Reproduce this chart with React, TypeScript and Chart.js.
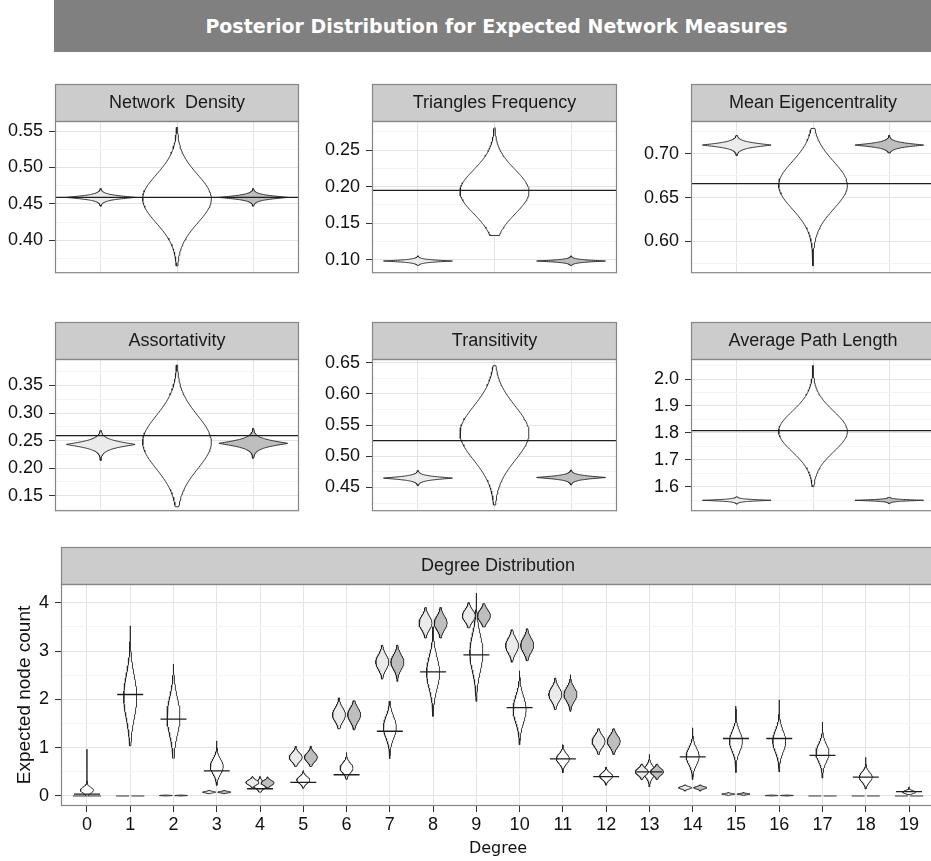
import React, { useEffect, useRef } from "react";
import { Chart, registerables } from "chart.js";

Chart.register(...registerables);

// ---------------- Six summary panels ----------------
const panelTitles = [
  "Network  Density",
  "Triangles Frequency",
  "Mean Eigencentrality",
  "Assortativity",
  "Transitivity",
  "Average Path Length",
];
const groupPositions = [1, 2, 3];
const observedValues = [0.459, 0.195, 0.666, 0.259, 0.525, 1.808];

// left (light) violins
const lightMode = [0.459, 0.098, 0.71, 0.243, 0.465, 1.549];
const lightMin = [0.447, 0.092, 0.698, 0.214, 0.453, 1.535];
const lightMax = [0.471, 0.105, 0.721, 0.268, 0.477, 1.562];
const lightSpread = [0.0034, 0.0019, 0.0034, 0.0077, 0.0034, 0.0039];

// middle (white) violins
const midMode = [0.457, 0.193, 0.664, 0.247, 0.537, 1.805];
const midMin = [0.365, 0.133, 0.572, 0.13, 0.422, 1.6];
const midMax = [0.555, 0.281, 0.729, 0.387, 0.645, 2.05];
const midSd = [0.033, 0.03, 0.027, 0.048, 0.043, 0.075];

// right (dark) violins
const darkMode = [0.459, 0.098, 0.71, 0.245, 0.466, 1.549];
const darkMin = [0.447, 0.092, 0.701, 0.218, 0.454, 1.537];
const darkMax = [0.471, 0.105, 0.721, 0.272, 0.478, 1.56];
const darkSpread = [0.0034, 0.0019, 0.003, 0.0077, 0.0034, 0.0035];

const yTickValues = [
  [0.4, 0.45, 0.5, 0.55],
  [0.1, 0.15, 0.2, 0.25],
  [0.6, 0.65, 0.7],
  [0.15, 0.2, 0.25, 0.3, 0.35],
  [0.45, 0.5, 0.55, 0.6, 0.65],
  [1.6, 1.7, 1.8, 1.9, 2.0],
];
const yTickLabels = [
  ["0.40", "0.45", "0.50", "0.55"],
  ["0.10", "0.15", "0.20", "0.25"],
  ["0.60", "0.65", "0.70"],
  ["0.15", "0.20", "0.25", "0.30", "0.35"],
  ["0.45", "0.50", "0.55", "0.60", "0.65"],
  ["1.6", "1.7", "1.8", "1.9", "2.0"],
];
const yAxisMin = [0.355, 0.0813, 0.5635, 0.1219, 0.412, 1.5085];
const yAxisMax = [0.5638, 0.29, 0.7375, 0.398, 0.6558, 2.0746];

// ---------------- Degree distribution ----------------
const degrees = [0, 1, 2, 3, 4, 5, 6, 7, 8, 9, 10, 11, 12, 13, 14, 15, 16, 17, 18, 19];
const degreeLabels = degrees.map((d) => String(d));
const degObserved = [0.04, 2.1, 1.59, 0.52, 0.15, 0.28, 0.44, 1.34, 2.57, 2.92, 1.83, 0.77, 0.4, 0.5, 0.81, 1.19, 1.19, 0.84, 0.39, 0.09];

const degMidMode = [0.12, 2.05, 1.65, 0.61, 0.22, 0.33, 0.58, 1.42, 2.55, 2.96, 1.79, 0.77, 0.41, 0.5, 0.82, 1.13, 1.13, 0.89, 0.39, 0.08];
const degMidMin = [0.0, 1.04, 0.77, 0.22, 0.08, 0.16, 0.34, 0.77, 1.65, 1.96, 1.06, 0.48, 0.22, 0.19, 0.34, 0.49, 0.5, 0.37, 0.15, 0.03];
const degMidMax = [0.97, 3.52, 2.73, 1.14, 0.4, 0.53, 0.9, 1.96, 3.5, 4.2, 2.59, 1.06, 0.6, 0.86, 1.41, 1.86, 1.99, 1.53, 0.8, 0.19];
const degMidSd = [0.06, 0.45, 0.38, 0.15, 0.07, 0.07, 0.1, 0.22, 0.33, 0.38, 0.27, 0.1, 0.07, 0.11, 0.17, 0.2, 0.22, 0.18, 0.1, 0.03];

const degLightMode = [0, 0, 0.01, 0.08, 0.28, 0.8, 1.68, 2.77, 3.58, 3.73, 3.11, 2.1, 1.13, 0.5, 0.17, 0.04, 0.01, 0, 0, 0];
const degLightMin = [0, 0, 0.0, 0.05, 0.17, 0.61, 1.39, 2.42, 3.27, 3.48, 2.77, 1.79, 0.86, 0.34, 0.1, 0.01, 0.0, 0, 0, 0];
const degLightMax = [0, 0, 0.02, 0.12, 0.41, 1.03, 2.03, 3.12, 3.9, 4.0, 3.44, 2.44, 1.39, 0.66, 0.23, 0.08, 0.02, 0, 0, 0];
const degLightSd = [0, 0, 0.005, 0.015, 0.05, 0.09, 0.14, 0.15, 0.14, 0.12, 0.15, 0.14, 0.12, 0.07, 0.025, 0.012, 0.005, 0, 0, 0];

const degDarkMode = [0, 0, 0.01, 0.08, 0.27, 0.8, 1.68, 2.77, 3.58, 3.73, 3.12, 2.1, 1.13, 0.5, 0.17, 0.04, 0.01, 0, 0, 0];
const degDarkMin = [0, 0, 0.0, 0.05, 0.17, 0.61, 1.37, 2.37, 3.27, 3.5, 2.8, 1.75, 0.86, 0.34, 0.1, 0.01, 0.0, 0, 0, 0];
const degDarkMax = [0, 0, 0.02, 0.12, 0.4, 1.03, 1.97, 3.12, 3.9, 3.98, 3.46, 2.51, 1.39, 0.66, 0.23, 0.08, 0.02, 0, 0, 0];
const degDarkSd = [0, 0, 0.005, 0.015, 0.05, 0.09, 0.14, 0.15, 0.14, 0.12, 0.15, 0.14, 0.12, 0.07, 0.025, 0.012, 0.005, 0, 0, 0];

const degYTicks = [0, 1, 2, 3, 4];
const degYLabels = ["0", "1", "2", "3", "4"];

// ---------------- styling ----------------
const FONT = '"Liberation Sans", Arial, Helvetica, sans-serif';
const ALT_FONT = '"DejaVu Sans", Verdana, sans-serif';
const GRID_MAJOR = "#e4e4e4";
const GRID_MINOR = "#f4f4f4";
const TICK = "#333333";
const LABEL = "#111111";
const OUTLINE = "#222222";
const FILL_LIGHT = "#ebebeb";
const FILL_MID = "#ffffff";
const FILL_DARK = "#bebebe";
const STRIP_H = 37;

type Pt = { x: number; y: number | null };

function violinPoints(cx: number, mode: number, lo: number, hi: number, spread: number, power: number, halfW: number): Pt[] {
  if (!(hi > lo) || !(spread > 0)) {
    return [
      { x: cx - halfW, y: mode },
      { x: cx + halfW, y: mode },
    ];
  }
  const n = 90;
  const ys: number[] = [];
  for (let i = 0; i <= n; i++) ys.push(lo + ((hi - lo) * i) / n);
  if (mode > lo && mode < hi) {
    ys.push(mode);
    ys.sort((a, b) => a - b);
  }
  const w = (y: number) => {
    const z = Math.abs(y - mode) / spread;
    return halfW * Math.exp(power === 2 ? -0.5 * z * z : -Math.pow(z, power));
  };
  const right = ys.map((y) => ({ x: cx + w(y), y }));
  const left = ys
    .slice()
    .reverse()
    .map((y) => ({ x: cx - w(y), y }));
  return [...right, ...left, right[0]];
}

function violinDataset(points: Pt[], fillColor: string, order: number) {
  return {
    type: "line",
    data: points,
    xAxisID: "x",
    yAxisID: "y",
    borderColor: OUTLINE,
    borderWidth: 0.9,
    backgroundColor: fillColor,
    fill: "shape",
    pointRadius: 0,
    pointHoverRadius: 0,
    borderJoinStyle: "round",
    tension: 0,
    order,
  };
}

function lineDataset(points: Pt[], width: number, order: number) {
  return {
    type: "line",
    data: points,
    xAxisID: "x",
    yAxisID: "y",
    borderColor: "#1e1e1e",
    borderWidth: width,
    backgroundColor: "transparent",
    fill: false,
    pointRadius: 0,
    pointHoverRadius: 0,
    spanGaps: false,
    tension: 0,
    order,
  };
}

function minorTicks(major: number[], lo: number, hi: number): number[] {
  const step = major[1] - major[0];
  const out: number[] = [];
  for (let i = -1; i < major.length; i++) {
    const v = (i < 0 ? major[0] - step : major[i]) + step / 2;
    if (v > lo && v < hi) out.push(v);
  }
  return out;
}

const framePlugin = {
  id: "panelFrame",
  afterDraw(chart: any, _args: any, opts: any) {
    const { ctx, chartArea: a } = chart;
    ctx.save();
    ctx.fillStyle = "#cccccc";
    ctx.fillRect(a.left, a.top - STRIP_H, a.right - a.left, STRIP_H);
    ctx.strokeStyle = "#868686";
    ctx.lineWidth = 1.2;
    ctx.strokeRect(a.left + 0.5, a.top - STRIP_H + 0.5, a.right - a.left - 1, STRIP_H);
    ctx.strokeRect(a.left + 0.5, a.top + 0.5, a.right - a.left - 1, a.bottom - a.top - 1);
    ctx.fillStyle = "#1a1a1a";
    ctx.font = `18px ${FONT}`;
    ctx.textAlign = "center";
    ctx.textBaseline = "middle";
    ctx.fillText(opts.title, (a.left + a.right) / 2, a.top - STRIP_H / 2 + 1);
    ctx.restore();
  },
};

type Spec = {
  key: string;
  left: number;
  top: number;
  width: number;
  height: number;
  axisW: number;
  bottomH: number;
  padBottom: number;
  title: string;
  datasets: any[];
  xMin: number;
  xMax: number;
  xTicks: number[];
  xLabels: string[] | null;
  xTitle?: string;
  yMin: number;
  yMax: number;
  yTicks: number[];
  yLabels: string[];
  yTitle?: string;
};

function buildConfig(s: Spec): any {
  const minors = minorTicks(s.yTicks, s.yMin, s.yMax);
  const allY = [...s.yTicks, ...minors].sort((a, b) => a - b);
  const isMajor = (v: number) => s.yTicks.some((t) => Math.abs(t - v) < 1e-9);
  const labelFor = (v: number) => {
    const i = s.yTicks.findIndex((t) => Math.abs(t - v) < 1e-9);
    return i >= 0 ? s.yLabels[i] : "";
  };
  return {
    type: "line",
    data: { datasets: s.datasets },
    options: {
      responsive: false,
      maintainAspectRatio: false,
      animation: false,
      events: [],
      layout: { padding: { top: 40, right: 2, bottom: s.padBottom, left: 0 } },
      plugins: {
        legend: { display: false },
        tooltip: { enabled: false },
        title: { display: false },
        panelFrame: { title: s.title },
      },
      scales: {
        x: {
          type: "linear",
          position: "bottom",
          min: s.xMin,
          max: s.xMax,
          afterBuildTicks: (sc: any) => {
            sc.ticks = s.xTicks.map((v) => ({ value: v }));
          },
          afterFit: (sc: any) => {
            sc.height = s.bottomH;
          },
          grid: {
            color: GRID_MAJOR,
            lineWidth: 1,
            drawTicks: !!s.xLabels,
            tickLength: 6,
            tickColor: TICK,
            tickWidth: 1,
          },
          border: { display: false },
          ticks: {
            display: !!s.xLabels,
            autoSkip: false,
            maxRotation: 0,
            minRotation: 0,
            font: { family: FONT, size: 18 },
            color: LABEL,
            padding: 2,
            callback: (_v: any, i: number) => (s.xLabels ? s.xLabels[i] : ""),
          },
          title: s.xTitle
            ? {
                display: true,
                text: s.xTitle,
                font: { family: ALT_FONT, size: 16 },
                color: "#111",
                padding: { top: 0, bottom: 3 },
              }
            : { display: false },
        },
        y: {
          type: "linear",
          position: "left",
          min: s.yMin,
          max: s.yMax,
          afterBuildTicks: (sc: any) => {
            sc.ticks = allY.map((v) => ({ value: v }));
          },
          afterFit: (sc: any) => {
            sc.width = s.axisW;
          },
          grid: {
            color: (c: any) => (c.tick && isMajor(c.tick.value) ? GRID_MAJOR : GRID_MINOR),
            tickColor: (c: any) => (c.tick && isMajor(c.tick.value) ? TICK : "rgba(0,0,0,0)"),
            lineWidth: 1,
            drawTicks: true,
            tickLength: 6,
            tickWidth: 1,
          },
          border: { display: false },
          ticks: {
            autoSkip: false,
            font: { family: FONT, size: 18 },
            color: LABEL,
            padding: 6,
            callback: (v: number) => labelFor(v),
          },
          title: s.yTitle
            ? {
                display: true,
                text: s.yTitle,
                font: { family: FONT, size: 19 },
                color: "#111",
                padding: { top: 13.5, bottom: 0 },
              }
            : { display: false },
        },
      },
    },
    plugins: [framePlugin],
  };
}

// ---------------- panel specs ----------------
const TOP_HALFW = 0.45;
const topPlotLeft = [55, 372, 691];
const topPlotRight = [299, 617, 935];
const topCanvasLeft = [0, 301, 619];
const rowPlotTop = [121, 359];
const rowPlotBottom = [288, 526];

function topSpec(i: number): Spec {
  const r = Math.floor(i / 3);
  const c = i % 3;
  const left = topCanvasLeft[c];
  const top = rowPlotTop[r] - 40;
  const width = topPlotRight[c] - left + 2;
  const height = rowPlotBottom[r] - top + 2;
  const xMin = 0.4;
  const xMax = 3.6;
  const datasets = [
    violinDataset(violinPoints(groupPositions[1], midMode[i], midMin[i], midMax[i], midSd[i], 2, TOP_HALFW), FILL_MID, 2),
    violinDataset(violinPoints(groupPositions[0], lightMode[i], lightMin[i], lightMax[i], lightSpread[i], 1.2, TOP_HALFW), FILL_LIGHT, 1),
    violinDataset(violinPoints(groupPositions[2], darkMode[i], darkMin[i], darkMax[i], darkSpread[i], 1.2, TOP_HALFW), FILL_DARK, 1),
    lineDataset(
      [
        { x: xMin, y: observedValues[i] },
        { x: xMax, y: observedValues[i] },
      ],
      1.3,
      0
    ),
  ];
  return {
    key: "p" + i,
    left,
    top,
    width,
    height,
    axisW: topPlotLeft[c] - left,
    bottomH: 0,
    padBottom: 2,
    title: panelTitles[i],
    datasets,
    xMin,
    xMax,
    xTicks: groupPositions,
    xLabels: null,
    yMin: yAxisMin[i],
    yMax: yAxisMax[i],
    yTicks: yTickValues[i],
    yLabels: yTickLabels[i],
  };
}

function degreeSpec(): Spec {
  const W = 0.15;
  const DODGE = 0.175;
  const SEG = 0.3;
  const datasets: any[] = [];
  degrees.forEach((d, k) => {
    datasets.push(violinDataset(violinPoints(d, degMidMode[k], degMidMin[k], degMidMax[k], degMidSd[k], 2, W), FILL_MID, 2));
  });
  degrees.forEach((d, k) => {
    datasets.push(violinDataset(violinPoints(d - DODGE, degLightMode[k], degLightMin[k], degLightMax[k], degLightSd[k], 2, W), FILL_LIGHT, 1));
    datasets.push(violinDataset(violinPoints(d + DODGE, degDarkMode[k], degDarkMin[k], degDarkMax[k], degDarkSd[k], 2, W), FILL_DARK, 1));
  });
  const seg: Pt[] = [];
  degrees.forEach((d, k) => {
    seg.push({ x: d - SEG, y: degObserved[k] });
    seg.push({ x: d + SEG, y: degObserved[k] });
    seg.push({ x: d + 0.5, y: null });
  });
  datasets.push(lineDataset(seg, 1.3, 0));
  return {
    key: "deg",
    left: 0,
    top: 544,
    width: 937,
    height: 317,
    axisW: 61,
    bottomH: 55,
    padBottom: 0,
    title: "Degree Distribution",
    datasets,
    xMin: -0.6,
    xMax: 19.6,
    xTicks: degrees,
    xLabels: degreeLabels,
    xTitle: "Degree",
    yMin: -0.207,
    yMax: 4.387,
    yTicks: degYTicks,
    yLabels: degYLabels,
    yTitle: "Expected node count",
  };
}

function PanelCanvas({ spec }: { spec: Spec }) {
  const ref = useRef<HTMLCanvasElement | null>(null);
  useEffect(() => {
    if (!ref.current) return;
    const chart = new Chart(ref.current, buildConfig(spec));
    return () => chart.destroy();
  }, []);
  return (
    <canvas
      ref={ref}
      width={spec.width}
      height={spec.height}
      style={{
        position: "absolute",
        left: spec.left,
        top: spec.top,
        width: spec.width,
        height: spec.height,
      }}
    />
  );
}

export default function App() {
  const specs: Spec[] = [0, 1, 2, 3, 4, 5].map((i) => topSpec(i));
  specs.push(degreeSpec());
  return (
    <div
      style={{
        position: "absolute",
        left: 0,
        top: 0,
        width: 931,
        height: 861,
        overflow: "hidden",
        background: "#ffffff",
      }}
    >
      <div
        style={{
          position: "absolute",
          left: 54,
          top: 0,
          width: 885,
          height: 52,
          background: "#808080",
          color: "#ffffff",
          display: "flex",
          alignItems: "center",
          justifyContent: "center",
          fontFamily: ALT_FONT,
          fontWeight: "bold",
          fontSize: 19,
        }}
      >
        Posterior Distribution for Expected Network Measures
      </div>
      {specs.map((s) => (
        <PanelCanvas key={s.key} spec={s} />
      ))}
    </div>
  );
}
